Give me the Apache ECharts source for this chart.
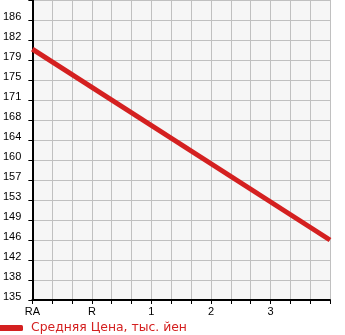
<!DOCTYPE html>
<html><head><meta charset="utf-8">
<script src="https://cdn.jsdelivr.net/npm/echarts@6/dist/echarts.min.js"></script>
<style>html,body{margin:0;padding:0;background:#fff}#c{width:345px;height:335px}</style>
</head><body><div id="c"></div>
<script>
var categories = ['RA','','','R','','','1','','','2','','','3','','',''];
var priceValues = [180.7,null,null,null,null,null,null,null,null,null,null,null,null,null,null,145.7];
var yTickLabels = ['135','138','142','146','149','153','157','160','164','168','171','175','179','182','186',''];
var seriesName = 'Средняя Цена, тыс. йен';
var yMin = 134.7, yStep = 11/3;

var chart = echarts.init(document.getElementById('c'), null, {renderer:'canvas'});
chart.setOption({
  animation:false,
  backgroundColor:'#ffffff',
  grid:{left:30,top:0,right:15,bottom:35,show:true,backgroundColor:'#f6f6f6',borderWidth:0,containLabel:false},
  legend:{show:true,left:-2,bottom:1,itemWidth:25,itemHeight:6,itemGap:5,padding:[0,0,0,0],
    data:[{name:seriesName,icon:'roundRect'}],
    textStyle:{color:'#d42020',fontSize:12.4,fontFamily:'DejaVu Sans, sans-serif',padding:[0,0,0,3]}},
  xAxis:{type:'category',data:categories,boundaryGap:false,
    axisLine:{show:true,lineStyle:{color:'#000',width:2}},
    axisTick:{show:true,interval:0,length:4,lineStyle:{color:'#000',width:1}},
    axisLabel:{interval:0,color:'#000',fontSize:11,fontFamily:'Liberation Sans, Arial, sans-serif',margin:6},
    splitLine:{show:true,interval:0,lineStyle:{color:'#c0c0c0',width:1}}},
  yAxis:{type:'value',min:yMin,max:yMin+15*yStep,interval:yStep,
    axisLine:{show:true,lineStyle:{color:'#000',width:2}},
    axisTick:{show:true,length:4,lineStyle:{color:'#000',width:1}},
    axisLabel:{color:'#000',fontSize:11,fontFamily:'Liberation Sans, Arial, sans-serif',margin:11,verticalAlign:'bottom',lineHeight:7,showMaxLabel:false,
      formatter:function(v){var i=Math.round((v-yMin)/yStep);return yTickLabels[i]||'';}},
    splitLine:{show:true,lineStyle:{color:'#c0c0c0',width:1}}},
  series:[{name:seriesName,type:'line',data:priceValues,connectNulls:true,showSymbol:false,symbol:'none',
    lineStyle:{color:'#d42020',width:5},itemStyle:{color:'#d42020'}}]
});
</script></body></html>
